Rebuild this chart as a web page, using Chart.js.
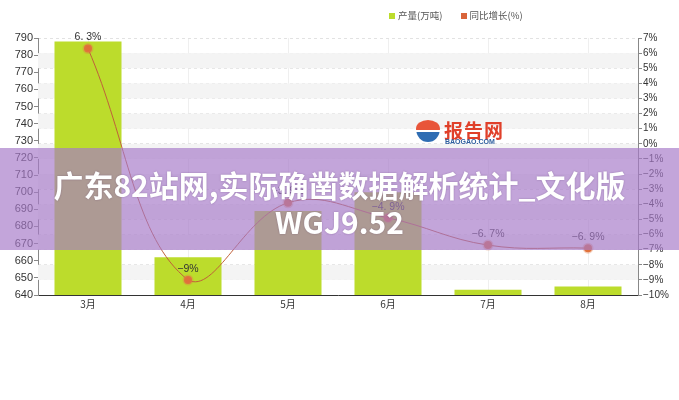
<!DOCTYPE html>
<html>
<head>
<meta charset="utf-8">
<script src="https://cdn.jsdelivr.net/npm/chart.js@4.4.0/dist/chart.umd.min.js"></script>
<style>
  html, body { margin: 0; padding: 0; background: #fff; }
  #wrap { position: relative; width: 679px; height: 400px; overflow: hidden; font-family: 'Liberation Sans', 'Noto Sans CJK SC', sans-serif; }
  #chartBox { position: absolute; left: 0; top: 0; width: 679px; height: 312px; }
  #legend { position: absolute; top: 8px; left: 389px; font-size: 9.5px; color: #555; font-family: 'Noto Sans CJK SC', sans-serif; }
  #legend span.sw { display: inline-block; width: 6px; height: 6px; margin-right: 3px; vertical-align: 0px; }
  #legend span.item { margin-right: 16px; }
  #logo { position: absolute; left: 416px; top: 117px; width: 100px; height: 30px; }
  #logo .ic { position: absolute; left: 0; top: 3px; width: 24px; height: 22px; border-radius: 50% 50% 50% 50% / 40% 40% 60% 60%; background: linear-gradient(#e8553a 0 45%, #fff 45% 55%, #2f6db3 55%); }
  #logo .cn { position: absolute; left: 28px; top: -1px; font: bold 19px 'Noto Sans CJK SC', sans-serif; color: #e0402a; letter-spacing: 1px; }
  #logo .en { position: absolute; left: 29px; top: 21px; font: bold 7px 'Liberation Sans', sans-serif; color: #2f5f9f; }
  #banner { position: absolute; left: 0; top: 148px; width: 679px; height: 102px; background: rgba(166,121,200,0.67); color: #fff; text-align: center; font: bold 30px 'Noto Sans CJK SC', sans-serif; line-height: 37px; padding-top: 18px; box-sizing: border-box; text-shadow: 0 0 2px rgba(80,50,100,0.4); }
</style>
</head>
<body>
<div id="wrap">
  <div id="chartBox"><canvas id="prodChart" width="679" height="312"></canvas></div>
  <div id="legend">
    <span class="item"><span class="sw" style="background:#bcdc2c"></span>产量(万吨)</span>
    <span class="item"><span class="sw" style="background:#d9643a"></span>同比增长(%)</span>
  </div>
  <div id="logo"><div class="ic"></div><div class="cn">报告网</div><div class="en">BAOGAO.COM</div></div>
  <div id="banner">广东82站网,实际确凿数据解析统计_文化版<br>WGJ9.52</div>
</div>
<script>
var months = ['3月', '4月', '5月', '6月', '7月', '8月'];
var output = [788, 662, 689, 700, 643, 645];
var growth = [6.3, -9, -3.9, -4.9, -6.7, -6.9];
var growthLabels = ['6. 3%', '−9%', '−3. 9%', '−4. 9%', '−6. 7%', '−6. 9%'];

var bandsPlugin = {
    id: 'bands',
    beforeDatasetsDraw: function (chart) {
        var ctx = chart.ctx, area = chart.chartArea, s = chart.scales.y1;
        ctx.save();
        ctx.fillStyle = '#f4f4f4';
        for (var v = 7, i = 0; v > -10; v--, i++) {
            if (i % 2 === 1) {
                var y0 = s.getPixelForValue(v), y1 = s.getPixelForValue(v - 1);
                ctx.fillRect(area.left, y0, area.right - area.left, y1 - y0);
            }
        }
        ctx.restore();
    }
};

// growth labels above the line points
var labelPlugin = {
    id: 'pointLabels',
    afterDatasetsDraw: function (chart) {
        var ctx = chart.ctx, meta = chart.getDatasetMeta(0);
        ctx.save();
        ctx.font = '10.5px "Liberation Sans", sans-serif';
        ctx.fillStyle = '#333';
        ctx.textAlign = 'center';
        ctx.textBaseline = 'bottom';
        meta.data.forEach(function (pt, i) {
            ctx.fillText(growthLabels[i], pt.x, pt.y - 6);
        });
        ctx.restore();
    }
};

var ctx1 = document.getElementById('prodChart').getContext('2d');
var prodChart = new Chart(ctx1, {
    data: {
        labels: months,
        datasets: [{
            type: 'line',
            label: '同比增长(%)',
            data: growth,
            yAxisID: 'y1',
            borderColor: '#c0603a',
            borderWidth: 1,
            tension: 0.4,
            pointRadius: 4,
            pointBackgroundColor: '#e0703a',
            pointBorderColor: 'rgba(225,120,70,0.35)',
            pointBorderWidth: 3,
            order: 0
        }, {
            type: 'bar',
            label: '产量(万吨)',
            data: output,
            yAxisID: 'y',
            backgroundColor: '#bcdc2c',
            barPercentage: 0.67,
            categoryPercentage: 1,
            order: 1
        }]
    },
    plugins: [bandsPlugin, labelPlugin],
    options: {
        responsive: false,
        animation: false,
        layout: { padding: { top: 38 } },
        plugins: { legend: { display: false }, tooltip: { enabled: false } },
        scales: {
            x: {
                afterFit: function (s) { s.height = 17; },
                grid: { offset: false, color: '#efefef', tickLength: 0, drawTicks: false },
                border: { color: '#333' },
                ticks: { color: '#333', font: { size: 10, family: "'Noto Sans CJK SC', sans-serif" }, padding: 3 }
            },
            y: {
                position: 'left',
                min: 640, max: 790,
                afterFit: function (s) { s.width = 38; },
                grid: { drawOnChartArea: false, tickLength: 4, color: '#888' },
                border: { color: '#888' },
                ticks: { stepSize: 10, color: '#333', padding: 1, font: { size: 11, family: "'Liberation Sans', sans-serif" } }
            },
            y1: {
                position: 'right',
                min: -10, max: 7,
                afterFit: function (s) { s.width = 41; },
                grid: { color: '#e2e2e2', tickLength: 4, tickColor: '#888' },
                border: { color: '#888', dash: [3, 3] },
                ticks: {
                    stepSize: 1, color: '#333', padding: 1,
                    font: { size: 10, family: "'Liberation Sans', sans-serif" },
                    callback: function (v) { return (v < 0 ? '−' + (-v) : v) + '%'; }
                }
            }
        }
    }
});
</script>
</body>
</html>
